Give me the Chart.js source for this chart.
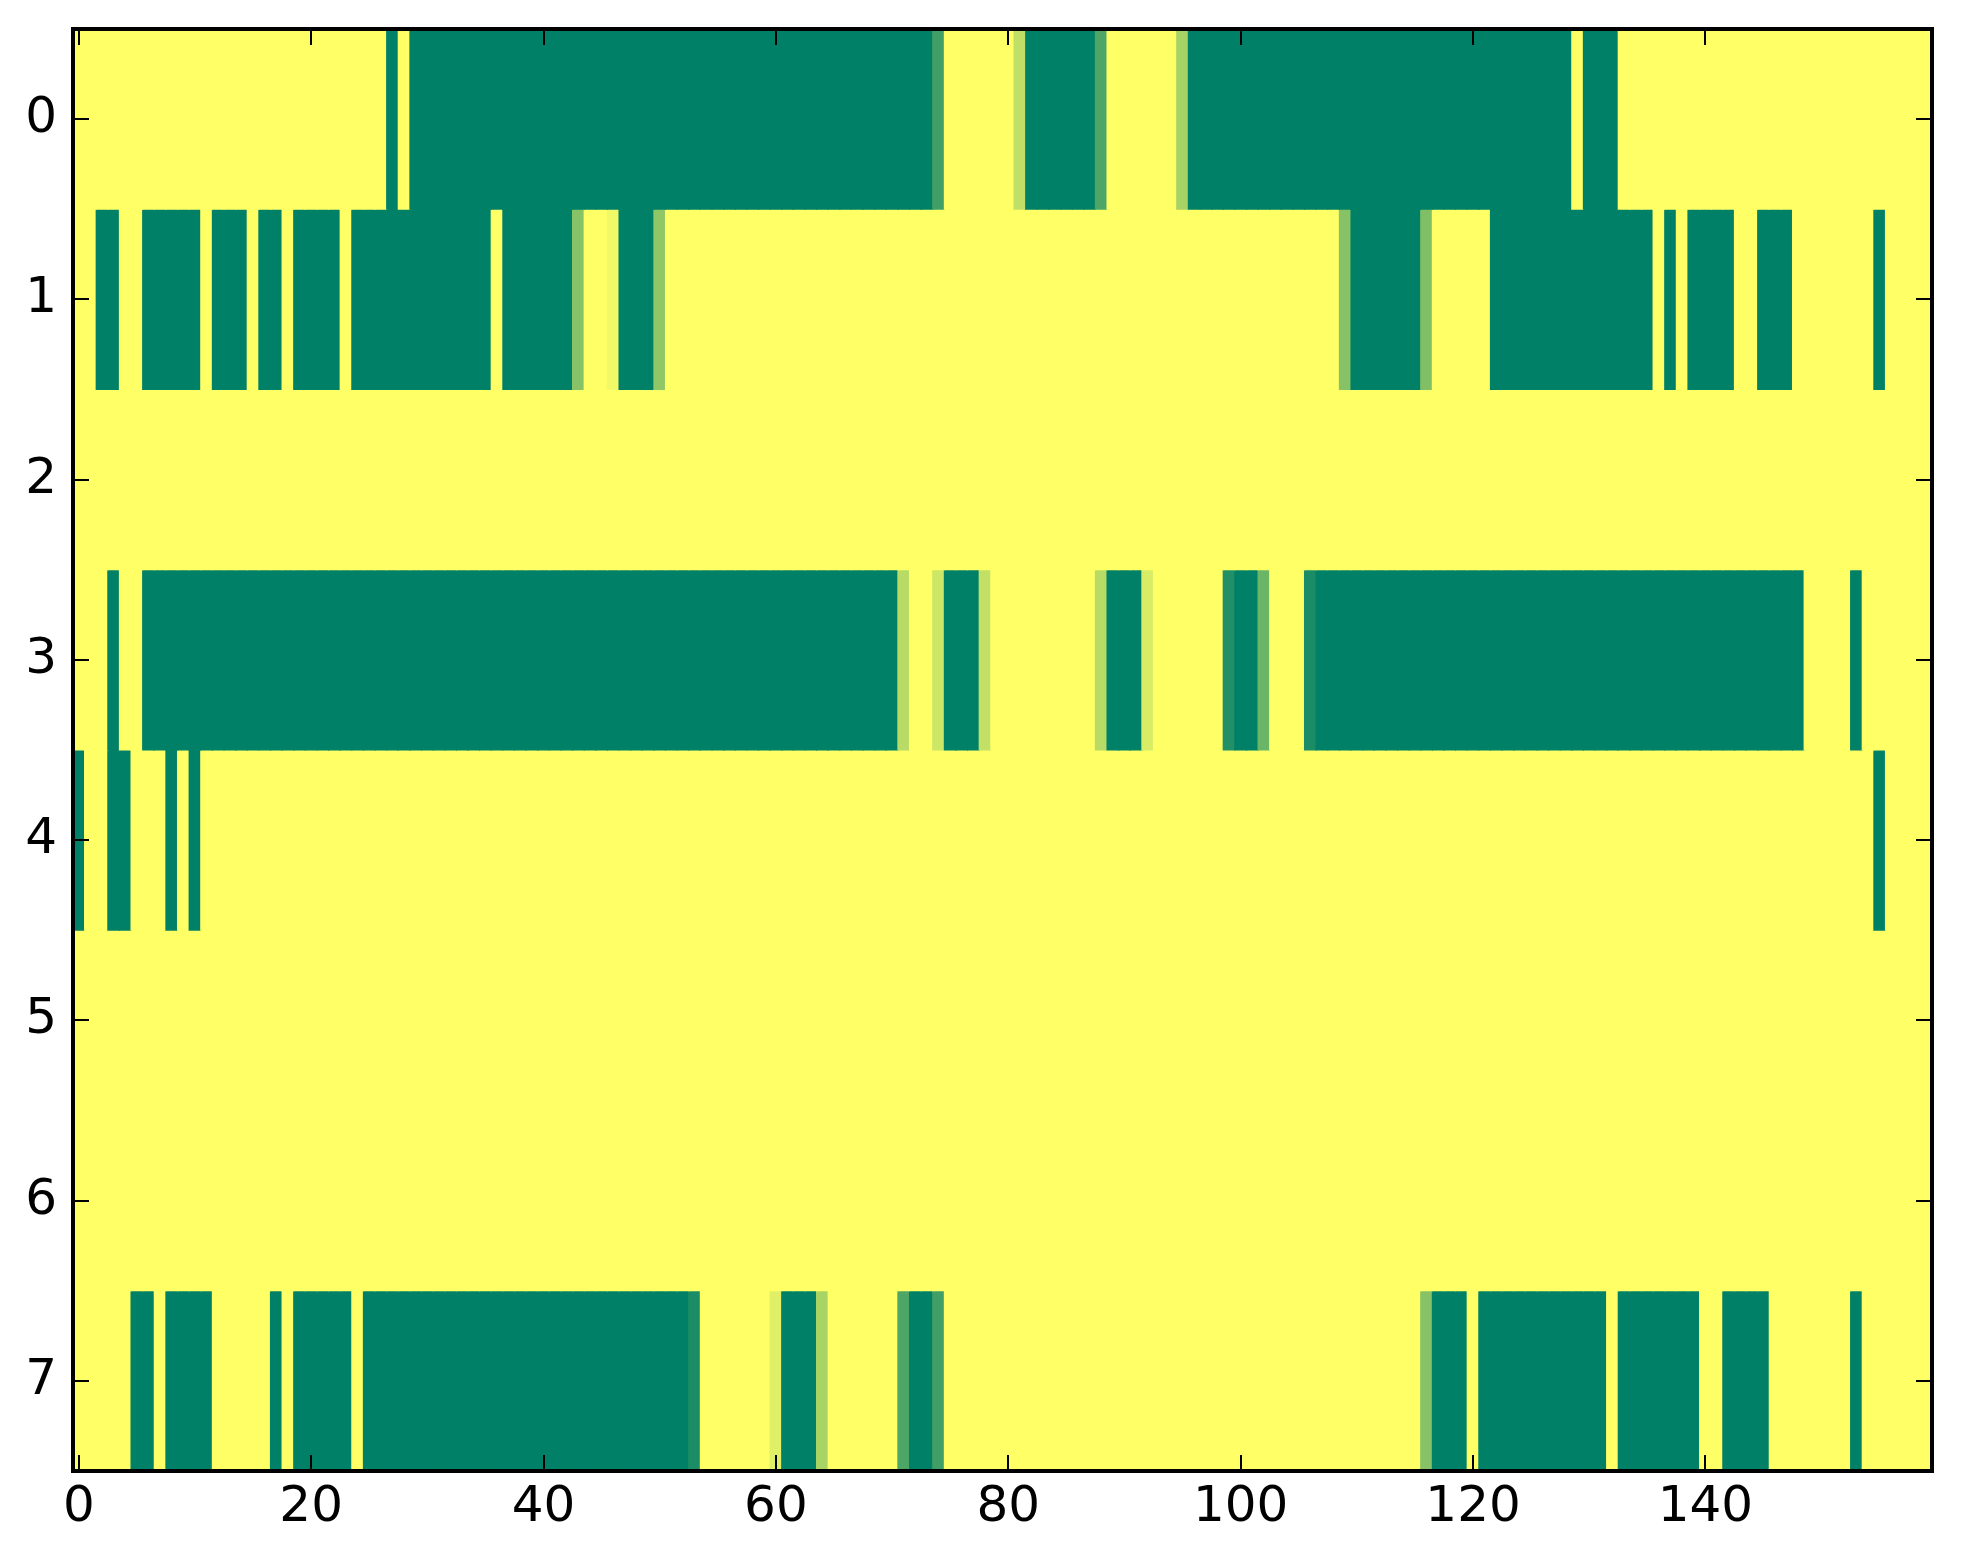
<!DOCTYPE html>
<html>
<head>
<meta charset="utf-8">
<script src="https://cdn.jsdelivr.net/npm/chart.js@4.4.1/dist/chart.umd.min.js"></script>
<style>
  html, body { margin: 0; padding: 0; background: #fff; }
  canvas { display: block; }
</style>
</head>
<body>
<canvas id="mapa" width="1963" height="1564"></canvas>
<script>
/* ================= DADOS ================= */

const linhas = [0, 1, 2, 3, 4, 5, 6, 7];
const ticksX = [0, 20, 40, 60, 80, 100, 120, 140];

const linha0 = [
  1,1,1,1,1,1,1,1,1,1,1,1,1,1,1,1,1,1,1,1,
  1,1,1,1,1,1,1,0,1,0,0,0,0,0,0,0,0,0,0,0,
  0,0,0,0,0,0,0,0,0,0,0,0,0,0,0,0,0,0,0,0,
  0,0,0,0,0,0,0,0,0,0,0,0,0,0,0.25,1,1,1,1,1,
  1,0.75,0,0,0,0,0,0,0.3,1,1,1,1,1,1,0.65,0,0,0,0,
  0,0,0,0,0,0,0,0,0,0,0,0,0,0,0,0,0,0,0,0,
  0,0,0,0,0,0,0,0,0,1,0,0,0,1,1,1,1,1,1,1,
  1,1,1,1,1,1,1,1,1,1,1,1,1,1,1,1,1,1,1,1
];

const linha1 = [
  1,1,0,0,1,1,0,0,0,0,0,1,0,0,0,1,0,0,1,0,
  0,0,0,1,0,0,0,0,0,0,0,0,0,0,0,0,1,0,0,0,
  0,0,0,0.53,1,1,0.95,0,0,0,0.56,1,1,1,1,1,1,1,1,1,
  1,1,1,1,1,1,1,1,1,1,1,1,1,1,1,1,1,1,1,1,
  1,1,1,1,1,1,1,1,1,1,1,1,1,1,1,1,1,1,1,1,
  1,1,1,1,1,1,1,1,1,0.53,0,0,0,0,0,0,0.5,1,1,1,
  1,1,0,0,0,0,0,0,0,0,0,0,0,0,0,0,1,0,1,0,
  0,0,0,1,1,0,0,0,1,1,1,1,1,1,1,0,1,1,1,1
];

const linha2 = [
  1,1,1,1,1,1,1,1,1,1,1,1,1,1,1,1,1,1,1,1,
  1,1,1,1,1,1,1,1,1,1,1,1,1,1,1,1,1,1,1,1,
  1,1,1,1,1,1,1,1,1,1,1,1,1,1,1,1,1,1,1,1,
  1,1,1,1,1,1,1,1,1,1,1,1,1,1,1,1,1,1,1,1,
  1,1,1,1,1,1,1,1,1,1,1,1,1,1,1,1,1,1,1,1,
  1,1,1,1,1,1,1,1,1,1,1,1,1,1,1,1,1,1,1,1,
  1,1,1,1,1,1,1,1,1,1,1,1,1,1,1,1,1,1,1,1,
  1,1,1,1,1,1,1,1,1,1,1,1,1,1,1,1,1,1,1,1
];

const linha3 = [
  1,1,1,0,1,1,0,0,0,0,0,0,0,0,0,0,0,0,0,0,
  0,0,0,0,0,0,0,0,0,0,0,0,0,0,0,0,0,0,0,0,
  0,0,0,0,0,0,0,0,0,0,0,0,0,0,0,0,0,0,0,0,
  0,0,0,0,0,0,0,0,0,0,0,0.72,1,1,0.8,0,0,0,0.76,1,
  1,1,1,1,1,1,1,1,0.72,0,0,0,0.85,1,1,1,1,1,1,0.13,
  0,0,0.42,1,1,1,0.1,0,0,0,0,0,0,0,0,0,0,0,0,0,
  0,0,0,0,0,0,0,0,0,0,0,0,0,0,0,0,0,0,0,0,
  0,0,0,0,0,0,0,0,0,1,1,1,1,0,1,1,1,1,1,1
];

const linha4 = [
  0,1,1,0,0,1,1,1,0,1,0,1,1,1,1,1,1,1,1,1,
  1,1,1,1,1,1,1,1,1,1,1,1,1,1,1,1,1,1,1,1,
  1,1,1,1,1,1,1,1,1,1,1,1,1,1,1,1,1,1,1,1,
  1,1,1,1,1,1,1,1,1,1,1,1,1,1,1,1,1,1,1,1,
  1,1,1,1,1,1,1,1,1,1,1,1,1,1,1,1,1,1,1,1,
  1,1,1,1,1,1,1,1,1,1,1,1,1,1,1,1,1,1,1,1,
  1,1,1,1,1,1,1,1,1,1,1,1,1,1,1,1,1,1,1,1,
  1,1,1,1,1,1,1,1,1,1,1,1,1,1,1,0,1,1,1,1
];

const linha5 = [
  1,1,1,1,1,1,1,1,1,1,1,1,1,1,1,1,1,1,1,1,
  1,1,1,1,1,1,1,1,1,1,1,1,1,1,1,1,1,1,1,1,
  1,1,1,1,1,1,1,1,1,1,1,1,1,1,1,1,1,1,1,1,
  1,1,1,1,1,1,1,1,1,1,1,1,1,1,1,1,1,1,1,1,
  1,1,1,1,1,1,1,1,1,1,1,1,1,1,1,1,1,1,1,1,
  1,1,1,1,1,1,1,1,1,1,1,1,1,1,1,1,1,1,1,1,
  1,1,1,1,1,1,1,1,1,1,1,1,1,1,1,1,1,1,1,1,
  1,1,1,1,1,1,1,1,1,1,1,1,1,1,1,1,1,1,1,1
];

const linha6 = [
  1,1,1,1,1,1,1,1,1,1,1,1,1,1,1,1,1,1,1,1,
  1,1,1,1,1,1,1,1,1,1,1,1,1,1,1,1,1,1,1,1,
  1,1,1,1,1,1,1,1,1,1,1,1,1,1,1,1,1,1,1,1,
  1,1,1,1,1,1,1,1,1,1,1,1,1,1,1,1,1,1,1,1,
  1,1,1,1,1,1,1,1,1,1,1,1,1,1,1,1,1,1,1,1,
  1,1,1,1,1,1,1,1,1,1,1,1,1,1,1,1,1,1,1,1,
  1,1,1,1,1,1,1,1,1,1,1,1,1,1,1,1,1,1,1,1,
  1,1,1,1,1,1,1,1,1,1,1,1,1,1,1,1,1,1,1,1
];

const linha7 = [
  1,1,1,1,1,0,0,1,0,0,0,0,1,1,1,1,1,0,1,0,
  0,0,0,0,1,0,0,0,0,0,0,0,0,0,0,0,0,0,0,0,
  0,0,0,0,0,0,0,0,0,0,0,0,0,0.1,1,1,1,1,1,1,
  0.88,0,0,0,0.66,1,1,1,1,1,1,0.3,0,0,0.25,1,1,1,1,1,
  1,1,1,1,1,1,1,1,1,1,1,1,1,1,1,1,1,1,1,1,
  1,1,1,1,1,1,1,1,1,1,1,1,1,1,1,1,0.53,0,0,0,
  1,0,0,0,0,0,0,0,0,0,0,0,1,0,0,0,0,0,0,0,
  1,1,0,0,0,0,1,1,1,1,1,1,1,0,1,1,1,1,1,1
];

const valores = [linha0, linha1, linha2, linha3, linha4, linha5, linha6, linha7];

/* ================= UTIL ================= */

// colormap "summer" do matplotlib
function corVerao(v) {
  const r = Math.round(255 * v);
  const g = Math.round(255 * (0.5 + 0.5 * v));
  return `rgb(${r},${g},102)`;
}

/* ================= MOLDURA ================= */

const moldura = {
  id: "moldura",
  afterDraw(chart) {
    const { ctx, chartArea: a, scales } = chart;
    const tam = 16;
    ctx.save();
    ctx.strokeStyle = "#000";
    ctx.lineWidth = 2;
    ctx.beginPath();
    ticksX.forEach(v => {
      const x = Math.round(scales.x.getPixelForValue(v));
      ctx.moveTo(x, a.top); ctx.lineTo(x, a.top + tam);
      ctx.moveTo(x, a.bottom); ctx.lineTo(x, a.bottom - tam);
    });
    linhas.forEach(v => {
      const y = Math.round(scales.y.getPixelForValue(v));
      ctx.moveTo(a.left, y); ctx.lineTo(a.left + tam, y);
      ctx.moveTo(a.right, y); ctx.lineTo(a.right - tam, y);
    });
    ctx.stroke();
    ctx.lineWidth = 4;
    ctx.strokeRect(a.left, a.top, a.right - a.left, a.bottom - a.top);
    ctx.restore();
  }
};

/* ================= GRÁFICO ================= */

const datasets = valores.map((linha, r) => ({
  data: linha.map((v, c) => ({ x: c, y: [linhas[r] - 0.5, linhas[r] + 0.5] })),
  backgroundColor: linha.map(corVerao),
  borderWidth: 0,
  inflateAmount: 0.6,
  grouped: false,
  barPercentage: 1,
  categoryPercentage: 1
}));

const fonte = { family: "'DejaVu Sans'", size: 50 };

new Chart(document.getElementById("mapa"), {
  type: "bar",
  data: { datasets },
  plugins: [moldura],
  options: {
    responsive: false,
    animation: false,
    devicePixelRatio: 1,
    layout: { padding: { top: 29, right: 31, left: 0, bottom: 0 } },
    plugins: { legend: { display: false }, tooltip: { enabled: false } },
    scales: {
      x: {
        type: "linear",
        offset: false,
        min: -0.5,
        max: linha0.length - 0.5,
        grid: { display: false, drawTicks: false },
        border: { display: false },
        afterBuildTicks: s => { s.ticks = ticksX.map(v => ({ value: v })); },
        afterFit: s => {
          s.height = 93;
          s.paddingLeft = 0;
          s.paddingRight = 0;
        },
        ticks: {
          color: "#000",
          font: fonte,
          padding: 7,
          autoSkip: false,
          maxRotation: 0,
          callback: v => String(v)
        }
      },
      y: {
        type: "linear",
        reverse: true,
        min: -0.5,
        max: 7.5,
        grid: { display: false, drawTicks: false },
        border: { display: false },
        afterBuildTicks: s => { s.ticks = linhas.map(v => ({ value: v })); },
        afterFit: s => {
          s.width = 73;
          s.paddingTop = 0;
          s.paddingBottom = 0;
        },
        ticks: {
          color: "#000",
          font: fonte,
          padding: 16,
          autoSkip: false,
          callback: v => String(v)
        }
      }
    }
  }
});
</script>
</body>
</html>
